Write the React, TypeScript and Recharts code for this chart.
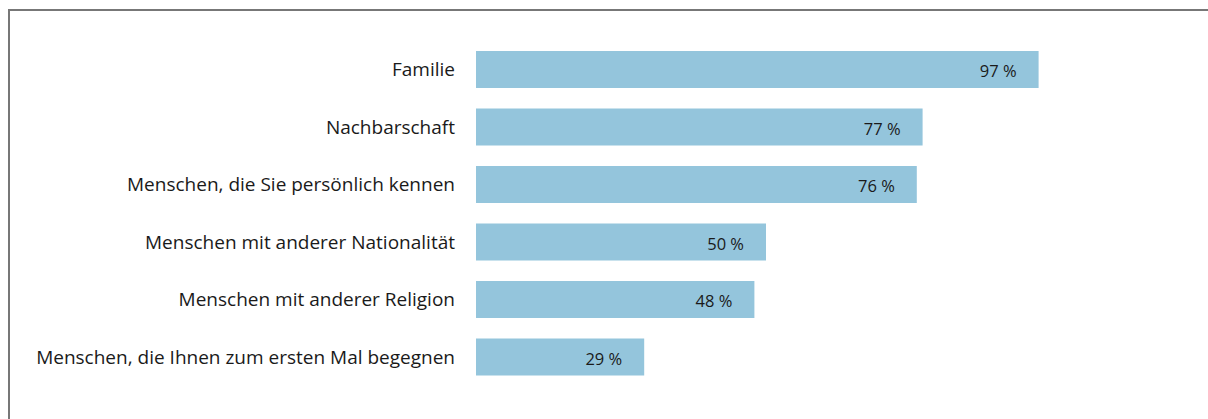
import React from "react";
import { BarChart, Bar, XAxis, YAxis, LabelList } from "recharts";

const categories = [
  "Familie",
  "Nachbarschaft",
  "Menschen, die Sie persönlich kennen",
  "Menschen mit anderer Nationalität",
  "Menschen mit anderer Religion",
  "Menschen, die Ihnen zum ersten Mal begegnen",
];
const shares = [97, 77, 76, 50, 48, 29];

const data = categories.map((name, i) => ({ name, value: shares[i] }));

const FONT = "'Open Sans', sans-serif";

function ValueLabel(props: any) {
  const { x, y, width, height, value } = props;
  return (
    <text
      x={x + width - 22}
      y={y + height / 2 + 1}
      textAnchor="end"
      dominantBaseline="central"
      fontFamily={FONT}
      fontSize={16.5}
      fill="#1a1a1a"
    >
      {`${value} %`}
    </text>
  );
}

export default function App() {
  return (
    <div style={{ position: "absolute", left: 0, top: 0, width: 1208, height: 419, background: "#fff" }}>
      <div
        style={{
          position: "absolute",
          left: 8,
          top: 9,
          width: 1200,
          height: 410,
          borderTop: "2px solid #777",
          borderLeft: "2px solid #777",
        }}
      />
      <BarChart
        width={1208}
        height={419}
        data={data}
        layout="vertical"
        margin={{ top: 41, right: 152, bottom: 33, left: 0 }}
        barSize={37}
      >
        <XAxis type="number" domain={[0, 100]} hide />
        <YAxis
          type="category"
          dataKey="name"
          width={476}
          axisLine={false}
          tickLine={false}
          tickSize={0}
          tickMargin={21}
          tick={{ fontFamily: FONT, fontSize: 19, fill: "#1a1a1a" }}
        />
        <Bar dataKey="value" fill="#94c5dc" isAnimationActive={false}>
          <LabelList dataKey="value" content={<ValueLabel />} />
        </Bar>
      </BarChart>
    </div>
  );
}
